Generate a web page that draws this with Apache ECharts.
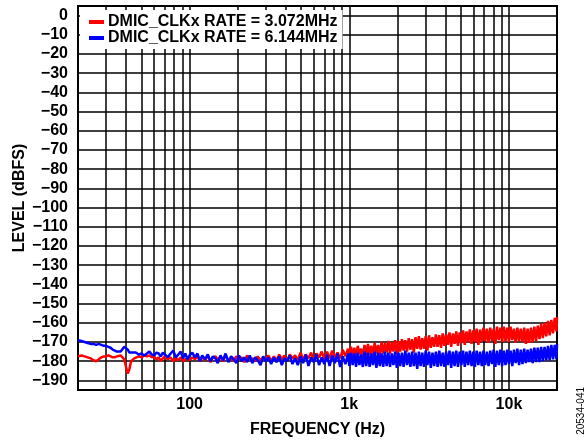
<!DOCTYPE html>
<html>
<head>
<meta charset="utf-8">
<script src="https://cdn.jsdelivr.net/npm/echarts@6/dist/echarts.min.js"></script>
<style>
  html, body { margin: 0; padding: 0; background: #fff; }
  #chart { width: 586px; height: 442px; }
</style>
</head>
<body>
<div id="chart"></div>
<script>
// frequency bins (Hz)
const freqHz = [
  20, 21, 22, 23, 24, 25, 26, 27, 28, 29,
  30, 31, 32, 33, 34, 35, 36, 37, 38, 39,
  40, 41, 42, 43, 44, 45, 46, 48, 50, 52,
  54, 56, 58, 60, 62, 64, 66, 68, 70, 73,
  76, 79, 82, 85, 88, 91, 94, 97, 100, 104,
  108, 112, 116, 120, 125, 130, 135, 140, 145, 150,
  156, 162, 168, 175, 182, 189, 196, 204, 212, 220,
  229, 238, 247, 257, 267, 278, 289, 300, 312, 324,
  337, 350, 364, 378, 393, 408, 424, 441, 458, 476,
  495, 514, 534, 555, 577, 600, 623, 647, 672, 698,
  725, 753, 782, 812, 844, 877, 911, 946, 983, 1000,
  1025, 1050, 1076, 1103, 1130, 1158, 1187, 1216, 1246, 1277,
  1309, 1341, 1374, 1408, 1443, 1479, 1516, 1554, 1592, 1632,
  1672, 1714, 1756, 1800, 1845, 1890, 1937, 1985, 2035, 2085,
  2137, 2190, 2244, 2300, 2357, 2415, 2475, 2537, 2600, 2664,
  2730, 2798, 2867, 2938, 3011, 3086, 3162, 3241, 3321, 3403,
  3488, 3574, 3663, 3754, 3847, 3942, 4040, 4140, 4243, 4348,
  4456, 4566, 4680, 4796, 4915, 5036, 5161, 5289, 5420, 5555,
  5692, 5834, 5978, 6126, 6278, 6434, 6593, 6757, 6924, 7096,
  7272, 7452, 7636, 7826, 8020, 8218, 8422, 8630, 8844, 9063,
  9288, 9518, 9754, 9996, 10244, 10497, 10758, 11024, 11298, 11578,
  11865, 12159, 12460, 12769, 13085, 13410, 13742, 14083, 14432, 14790,
  15156, 15532, 15917, 16311, 16716, 17130, 17555, 17990, 18436, 18893,
  19361, 19841, 20000
];

// DMIC_CLKx RATE = 3.072MHz (dBFS)
const rate3072 = [
  -177.5, -177, -177.5, -178, -178.5, -179.5, -180, -179, -178, -177.5,
  -177.5, -177, -177.5, -178, -178, -177.5, -177, -177, -177.5, -179,
  -183, -186.5, -184, -180, -179, -178.5, -178, -177.5, -178, -177,
  -177.5, -177, -178, -177.5, -179, -178, -180, -178.5, -177.5, -179,
  -178, -180, -178.5, -179.5, -178, -180, -179, -178.5, -179.5, -178,
  -179, -177.5, -180, -178, -179.5, -177, -180.5, -178, -177.5, -179,
  -178, -180, -177, -179.5, -178.5, -180, -177.5, -179, -178, -180.5,
  -177, -179, -178.5, -180, -177.5, -179.5, -178, -179, -177, -180,
  -177.5, -179.5, -176.5, -179, -177, -180, -176.5, -178.5, -177, -179.5,
  -175.5, -179, -176.5, -178.5, -175.5, -179.5, -176, -178, -175, -179,
  -175, -178.5, -174.5, -178, -175.5, -178.5, -174, -177.5, -173.5, -178,
  -172.5, -177.5, -173, -178, -172, -176.5, -173.5, -177.5, -171.5, -177,
  -171, -176.5, -172, -177, -170.5, -176, -171.5, -177.5, -170, -176,
  -170.5, -175.5, -169.5, -176, -170, -175, -169, -176.5, -169.5, -175,
  -168.5, -174.5, -169, -175, -168, -174, -168.5, -175.5, -167.5, -173.5,
  -167, -174, -168, -173.5, -167, -174.5, -166.5, -173, -167.5, -172.5,
  -166, -172.5, -166.5, -173, -165.5, -172, -166, -171.5, -165, -172.5,
  -165.5, -171, -164.5, -172, -165, -170.5, -164, -171.5, -164.5, -170,
  -163.5, -171, -164, -170, -163, -171.5, -163.5, -170, -162.5, -169.5,
  -163, -170.5, -162.5, -169.5, -163, -171, -162, -169, -162.5, -170,
  -162, -169.5, -162.5, -170, -162, -169, -163, -170.5, -162.5, -169.5,
  -163, -170, -162.5, -171, -163, -170.5, -162.5, -170, -162, -169.5,
  -161.5, -168.5, -160.5, -168, -160, -167, -159, -166.5, -158.5, -165.5,
  -157.5, -164.5, -157
];

// DMIC_CLKx RATE = 6.144MHz (dBFS)
const rate6144 = [
  -169, -169.5, -170, -170.5, -171, -171, -171.5, -171, -171.5, -172,
  -172, -172.5, -173, -174, -174.5, -175, -175.5, -175, -174, -172.5,
  -172.5, -174, -175.5, -176, -175.5, -176, -175.5, -176.5, -176, -177,
  -176, -175, -176.5, -177, -175.5, -176, -177.5, -175.5, -176.5, -178,
  -176, -174.5, -178, -176.5, -175, -178.5, -176, -179, -177, -175.5,
  -178, -176, -180, -177, -179, -176.5, -180, -177.5, -178.5, -181,
  -177, -179.5, -176, -180.5, -177.5, -179, -181, -177, -180, -178,
  -180.5, -177, -181, -178, -179.5, -182, -177.5, -180, -178, -181.5,
  -178, -180.5, -177.5, -182, -178.5, -180, -177, -181.5, -178.5, -182,
  -177.5, -181, -176.5, -182.5, -178, -180.5, -176.5, -182, -178, -181.5,
  -176.5, -182.5, -177, -181, -176, -183, -177.5, -181.5, -176, -182.5,
  -175.5, -182, -176, -183, -175.5, -182, -176.5, -183, -175, -182.5,
  -175.5, -183, -176, -182, -175, -183.5, -175.5, -182.5, -176, -183,
  -175, -182.5, -175.5, -183, -176, -182, -175, -183.5, -175.5, -182.5,
  -175.5, -183, -174.5, -182, -175.5, -183, -175, -182.5, -175.5, -184,
  -175, -182.5, -175.5, -183, -174.5, -182, -175, -183.5, -175.5, -182.5,
  -175, -183, -174.5, -182.5, -175.5, -183, -175, -182, -174.5, -183.5,
  -175, -182.5, -174.5, -183, -175, -182, -174.5, -183, -175, -182,
  -174.5, -182.5, -175, -183, -174.5, -182, -175, -182.5, -174.5, -182,
  -175, -182.5, -174.5, -181.5, -174, -183, -174.5, -182, -174, -182.5,
  -174.5, -182, -174, -181.5, -174.5, -182.5, -174, -181, -173.5, -182,
  -174, -181.5, -173.5, -181, -174, -180.5, -173.5, -181, -173, -180.5,
  -173, -180.5, -172.5, -180, -172.5, -179.5, -172, -179.5, -171.5, -179,
  -171.5, -179, -171
];

const seriesNames = ['DMIC_CLKx RATE = 3.072MHz', 'DMIC_CLKx RATE = 6.144MHz'];
const seriesColors = ['#ff0000', '#0000ff'];

// axis ticks
const yTicks = [0, -10, -20, -30, -40, -50, -60, -70, -80, -90, -100, -110, -120, -130, -140, -150, -160, -170, -180, -190];
const xGridHz = [30, 40, 50, 60, 70, 80, 90, 100, 200, 300, 400, 500, 600, 700, 800, 900,
  1000, 2000, 3000, 4000, 5000, 6000, 7000, 8000, 9000, 10000];
const xLabelHz = [100, 1000, 10000];
const xLabelText = ['100', '1k', '10k'];

const chart = echarts.init(document.getElementById('chart'));

const lg = f => Math.log10(f);
const toPoints = vals => vals.map((v, i) => [lg(freqHz[i]), v]);
const minus = v => String(v).replace('-', '\u2212');
const font = 'Liberation Sans, Arial, sans-serif';

const option = {
  animation: false,
  grid: {
    left: 78,
    right: 29,
    top: 6,
    bottom: 52,
    outerBoundsMode: 'none',
    show: true,
    borderColor: '#000',
    borderWidth: 2,
    backgroundColor: 'transparent'
  },
  legend: {
    data: seriesNames,
    orient: 'vertical',
    left: 80,
    top: 10,
    padding: [4, 5, 3, 9],
    itemGap: 0,
    itemWidth: 15,
    itemHeight: 4,
    backgroundColor: '#fff',
    icon: 'rect',
    textStyle: { fontFamily: font, fontWeight: 'bold', fontSize: 16, color: '#000', padding: [0, 0, 0, -1] }
  },
  xAxis: {
    type: 'value',
    min: lg(20),
    max: lg(20000),
    name: 'FREQUENCY (Hz)',
    nameLocation: 'middle',
    nameGap: 32,
    nameMoveOverlap: false,
    nameTextStyle: { fontFamily: font, fontWeight: 'bold', fontSize: 16, color: '#000' },
    axisLine: { show: false },
    axisTick: { show: false, customValues: xGridHz.map(lg) },
    splitLine: { show: true, lineStyle: { color: '#000', width: 1.5 } },
    axisLabel: {
      customValues: xLabelHz.map(lg),
      formatter: v => xLabelText[xLabelHz.findIndex(h => Math.abs(lg(h) - v) < 1e-6)] || '',
      fontFamily: font, fontWeight: 'bold', fontSize: 16, color: '#000', margin: 7
    }
  },
  yAxis: {
    type: 'value',
    min: -195,
    max: 5,
    name: 'LEVEL (dBFS)',
    nameLocation: 'middle',
    nameRotate: 90,
    nameGap: 50,
    nameMoveOverlap: false,
    nameTextStyle: { fontFamily: font, fontWeight: 'bold', fontSize: 16, color: '#000' },
    axisLine: { show: false },
    axisTick: { show: false, customValues: yTicks },
    splitLine: { show: true, lineStyle: { color: '#000', width: 1.5 } },
    axisLabel: {
      customValues: yTicks,
      formatter: minus,
      fontFamily: font, fontWeight: 'bold', fontSize: 16, color: '#000', margin: 10
    }
  },
  graphic: [{
    type: 'text',
    left: 576,
    top: 387,
    rotation: Math.PI / 2,
    style: { text: '20534-041', fontFamily: font, fontSize: 10, fill: '#000' }
  }],
  series: [
    {
      name: seriesNames[0],
      type: 'line',
      data: toPoints(rate3072),
      symbol: 'none',
      lineStyle: { color: seriesColors[0], width: 2.5 },
      itemStyle: { color: seriesColors[0] }
    },
    {
      name: seriesNames[1],
      type: 'line',
      data: toPoints(rate6144),
      symbol: 'none',
      lineStyle: { color: seriesColors[1], width: 2.5 },
      itemStyle: { color: seriesColors[1] }
    }
  ]
};

chart.setOption(option);
</script>
</body>
</html>
